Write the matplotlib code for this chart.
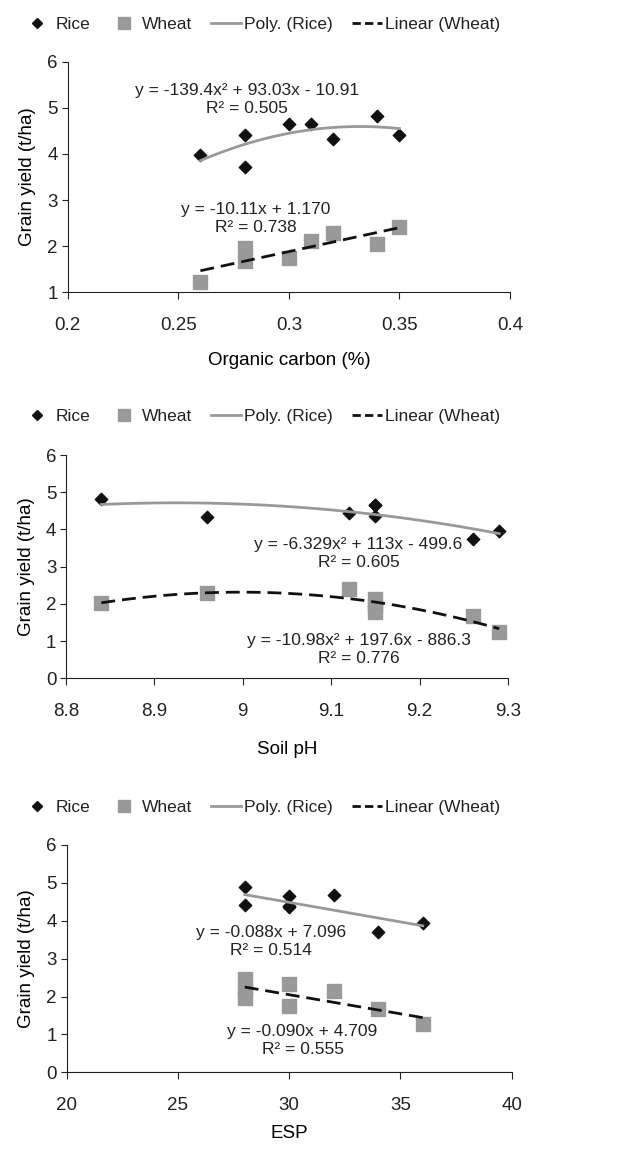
import numpy as np
import matplotlib.pyplot as plt
from matplotlib.lines import Line2D

plt.rcParams['font.family'] = ['Liberation Sans', 'DejaVu Sans']
plt.rcParams['text.color'] = '#222222'

# panel 1 : organic carbon
oc_rice_x = [0.26, 0.28, 0.28, 0.30, 0.31, 0.32, 0.34, 0.35]
oc_rice_y = [3.97, 4.40, 3.72, 4.65, 4.65, 4.33, 4.83, 4.40]
oc_wheat_x = [0.26, 0.28, 0.28, 0.30, 0.31, 0.32, 0.34, 0.35]
oc_wheat_y = [1.23, 1.95, 1.68, 1.75, 2.12, 2.28, 2.05, 2.42]

# panel 2 : soil pH
ph_rice_x = [8.84, 8.96, 9.12, 9.15, 9.15, 9.15, 9.26, 9.29]
ph_rice_y = [4.83, 4.34, 4.43, 4.65, 4.65, 4.37, 3.73, 3.96]
ph_wheat_x = [8.84, 8.96, 9.12, 9.15, 9.15, 9.15, 9.26, 9.29]
ph_wheat_y = [2.03, 2.28, 2.39, 2.12, 1.95, 1.77, 1.67, 1.25]

# panel 3 : ESP
esp_rice_x = [28, 28, 30, 30, 30, 32, 34, 36]
esp_rice_y = [4.88, 4.42, 4.66, 4.40, 4.35, 4.67, 3.71, 3.95]
esp_wheat_x = [28, 28, 28, 30, 30, 32, 34, 36]
esp_wheat_y = [2.45, 2.20, 1.95, 2.32, 1.76, 2.15, 1.68, 1.27]

panels = [
    dict(rx=oc_rice_x, ry=oc_rice_y, wx=oc_wheat_x, wy=oc_wheat_y, rdeg=2, wdeg=1,
         xlim=(0.2, 0.4), xticks=[0.2, 0.25, 0.3, 0.35, 0.4], ylim=(1, 6),
         xlabel='Organic carbon (%)', lpad=13, box=[0.1073, 0.7456, 0.701, 0.2007],
         leg_y=0.979,
         eqs=[(0.281, 5.18, 'y = -139.4x² + 93.03x - 10.91\nR² = 0.505'),
              (0.285, 2.60, 'y = -10.11x + 1.170\nR² = 0.738')]),
    dict(rx=ph_rice_x, ry=ph_rice_y, wx=ph_wheat_x, wy=ph_wheat_y, rdeg=2, wdeg=2,
         xlim=(8.8, 9.3), xticks=[8.8, 8.9, 9.0, 9.1, 9.2, 9.3], ylim=(0, 6),
         xlabel='Soil pH', lpad=15, box=[0.1046, 0.4097, 0.7005, 0.1943], leg_y=0.6375,
         eqs=[(9.131, 3.36, 'y = -6.329x² + 113x - 499.6\nR² = 0.605'),
              (9.131, 0.76, 'y = -10.98x² + 197.6x - 886.3\nR² = 0.776')]),
    dict(rx=esp_rice_x, ry=esp_rice_y, wx=esp_wheat_x, wy=esp_wheat_y, rdeg=1, wdeg=1,
         xlim=(20, 40), xticks=[20, 25, 30, 35, 40], ylim=(0, 6),
         xlabel='ESP', lpad=8, box=[0.1057, 0.0667, 0.7053, 0.198], leg_y=0.2975,
         eqs=[(29.2, 3.44, 'y = -0.088x + 7.096\nR² = 0.514'),
              (30.6, 0.84, 'y = -0.090x + 4.709\nR² = 0.555')]),
]

fig = plt.figure(figsize=(6.31, 11.49), dpi=100)

for p in panels:
    ax = fig.add_axes(p['box'])
    ax.scatter(p['rx'], p['ry'], marker='D', s=40, color='#111111', zorder=3)
    ax.scatter(p['wx'], p['wy'], marker='s', s=90, color='#999999', zorder=2)

    # trend lines
    xs = np.linspace(min(p['rx']), max(p['rx']), 100)
    ax.plot(xs, np.polyval(np.polyfit(p['rx'], p['ry'], p['rdeg']), xs),
            color='#999999', lw=2, zorder=4)
    xs = np.linspace(min(p['wx']), max(p['wx']), 100)
    ax.plot(xs, np.polyval(np.polyfit(p['wx'], p['wy'], p['wdeg']), xs),
            color='#111111', lw=2, ls=(0, (5, 2.5)), zorder=4)

    for ex, ey, txt in p['eqs']:
        ax.text(ex, ey, txt, ha='center', va='center', multialignment='center',
                fontsize=12.5, linespacing=1.25)

    ax.set_xlim(p['xlim'])
    ax.set_ylim(p['ylim'])
    ax.set_xticks(p['xticks'])
    ax.set_xticklabels([('%g' % t) for t in p['xticks']])
    ax.set_yticks(np.arange(p['ylim'][0], 7))
    ax.spines['right'].set_color('none')
    ax.spines['top'].set_color('none')
    ax.spines['left'].set_color('#222222')
    ax.spines['bottom'].set_color('#222222')
    ax.tick_params(axis='y', length=4, pad=3, labelsize=13.5, colors='#222222')
    ax.tick_params(axis='x', length=5, pad=13, labelsize=13.5, colors='#222222')
    ax.set_xlabel(p['xlabel'], fontsize=13.5, labelpad=p['lpad'])
    ax.set_ylabel('Grain yield (t/ha)', fontsize=13.5, labelpad=8)

    handles = [
        Line2D([], [], marker='D', ls='none', color='#111111', ms=5.5),
        Line2D([], [], marker='s', ls='none', color='#999999', ms=8.5),
        Line2D([], [], color='#999999', lw=2),
        Line2D([], [], color='#111111', lw=2, ls=(0, (3, 1.5))),
    ]
    fig.legend(handles, ['Rice', 'Wheat', 'Poly. (Rice)', 'Linear (Wheat)'],
               loc='center', bbox_to_anchor=(0.414, p['leg_y']), ncol=4, frameon=False,
               fontsize=12.5, handlelength=1.7, handletextpad=0.2, columnspacing=1.1)

plt.savefig('out.png', dpi=100)
